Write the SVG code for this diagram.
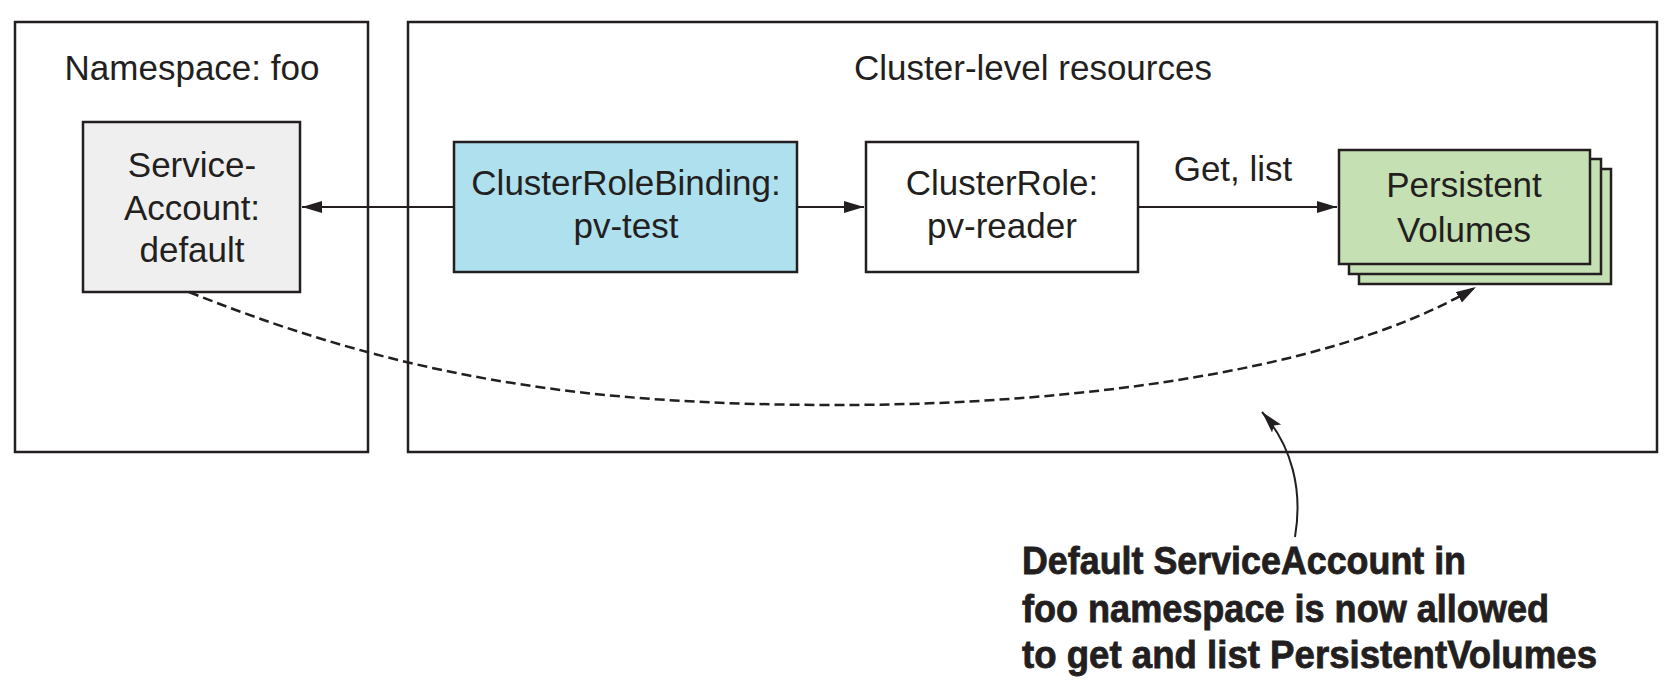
<svg xmlns="http://www.w3.org/2000/svg" width="1678" height="693" viewBox="0 0 1678 693">
  <style>
    .frame { fill: #ffffff; stroke: #231f20; stroke-width: 2.5; }
    .box { stroke: #231f20; stroke-width: 2.5; }
    .label { font-family: "Liberation Sans", Arial, sans-serif; font-size: 35px; fill: #231f20; text-anchor: middle; }
    .edge { fill: none; stroke: #231f20; stroke-width: 2; }
    .dashed { stroke-width: 2.5; stroke-dasharray: 10 5; }
    .note { font-family: "Liberation Sans", Arial, sans-serif; font-weight: bold; font-size: 38px; fill: #231f20; stroke: #231f20; stroke-width: 0.8; }
  </style>
  <defs>
    <marker id="arrow" markerUnits="userSpaceOnUse" markerWidth="22" markerHeight="14" refX="20" refY="6" orient="auto">
      <path d="M0,0 L20,6 L0,12 Z" fill="#231f20"/>
    </marker>
    <marker id="arrow-thin" markerUnits="userSpaceOnUse" markerWidth="24" markerHeight="14" refX="22" refY="6" orient="auto">
      <path d="M0,0 L22,6 L0,12 L4,6 Z" fill="#231f20"/>
    </marker>
  </defs>

  <rect width="1678" height="693" fill="#ffffff"/>

  <!-- Namespace container -->
  <g id="namespace-foo">
    <rect class="frame" x="15" y="22" width="353" height="430"/>
    <text class="label" x="192" y="80">Namespace: foo</text>
  </g>

  <!-- Cluster-level container -->
  <g id="cluster-level">
    <rect class="frame" x="408" y="22" width="1249" height="430"/>
    <text class="label" x="1033" y="80">Cluster-level resources</text>
  </g>

  <g id="service-account">
    <rect class="box" x="83" y="122" width="217" height="170" fill="#efefef"/>
    <text class="label" x="192" y="177">Service-</text>
    <text class="label" x="192" y="220">Account:</text>
    <text class="label" x="192" y="262">default</text>
  </g>

  <g id="cluster-role-binding">
    <rect class="box" x="454" y="142" width="343" height="130" fill="#aee0ee"/>
    <text class="label" x="626" y="195">ClusterRoleBinding:</text>
    <text class="label" x="626" y="238">pv-test</text>
  </g>

  <g id="cluster-role">
    <rect class="box" x="866" y="142" width="272" height="130" fill="#ffffff"/>
    <text class="label" x="1002" y="195">ClusterRole:</text>
    <text class="label" x="1002" y="238">pv-reader</text>
  </g>

  <g id="persistent-volumes">
    <rect class="box" x="1359" y="169" width="252" height="115" fill="#c5e0b3"/>
    <rect class="box" x="1349" y="159" width="252" height="115" fill="#c5e0b3"/>
    <rect class="box" x="1339" y="150" width="251" height="114" fill="#c5e0b3"/>
    <text class="label" x="1464" y="197">Persistent</text>
    <text class="label" x="1464" y="242">Volumes</text>
  </g>

  <g id="connectors">
    <line class="edge" x1="454" y1="207" x2="302" y2="207" marker-end="url(#arrow)"/>
    <line class="edge" x1="797" y1="207" x2="864" y2="207" marker-end="url(#arrow)"/>
    <line class="edge" x1="1138" y1="207" x2="1337" y2="207" marker-end="url(#arrow)"/>
    <text class="label" x="1233" y="181">Get, list</text>
    <path class="edge dashed" d="M189,292 C409,380 589,405 839,405 C1039,405 1322,379 1476,287" marker-end="url(#arrow)"/>
    <path class="edge" stroke-width="1.5" d="M1295,537 C1303,490 1292,446 1262,412" marker-end="url(#arrow-thin)"/>
  </g>

  <g id="annotation">
    <text class="note" x="1022" y="574" textLength="444" lengthAdjust="spacingAndGlyphs">Default ServiceAccount in</text>
    <text class="note" x="1022" y="622" textLength="527" lengthAdjust="spacingAndGlyphs">foo namespace is now allowed</text>
    <text class="note" x="1022" y="668" textLength="575" lengthAdjust="spacingAndGlyphs">to get and list PersistentVolumes</text>
  </g>
</svg>
